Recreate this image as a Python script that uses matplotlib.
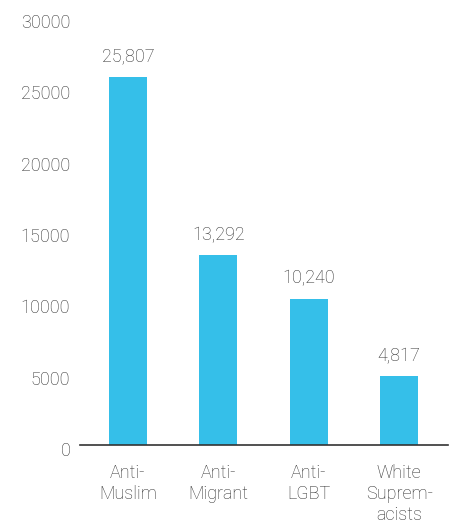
import matplotlib
matplotlib.use("Agg")
import matplotlib.pyplot as plt
import matplotlib.transforms as mtransforms

# Data
categories = ["Anti-\nMuslim", "Anti-\nMigrant", "Anti-\nLGBT", "White\nSuprem-\nacists"]
values = [25807, 13292, 10240, 4817]
yticks = [0, 5000, 10000, 15000, 20000, 25000, 30000]

bar_color = "#35bfe9"
text_color = "#2e2e2e"
plt.rcParams["font.family"] = ["Roboto", "DejaVu Sans"]
plt.rcParams["font.weight"] = "light"

fig = plt.figure(figsize=(4.55, 5.26), dpi=100)
ax = fig.add_axes([80 / 455, 81 / 526, 368 / 455, 428 / 526])

x = list(range(len(values)))
ax.bar(x, values, width=0.42, color=bar_color, zorder=2)

# value labels above bars
for xi, v in zip(x, values):
    ax.text(xi, v + 800, f"{v:,}", ha="center", va="bottom",
            fontsize=13, color=text_color, fontweight="light")

ax.set_xlim(-0.53, 3.54)
ax.set_ylim(0, 30000)
ax.set_yticks(yticks)
ax.set_yticklabels([str(t) for t in yticks], fontsize=13, color=text_color,
                   fontweight="light")
ax.set_xticks(x)
ax.set_xticklabels(categories, fontsize=13, color=text_color, linespacing=1.2,
                   fontweight="light")
ax.tick_params(axis="both", length=0)
ax.tick_params(axis="y", pad=7)
ax.tick_params(axis="x", pad=14)

# nudge y labels a little downward like the original
shift = mtransforms.ScaledTranslation(0, -4 / 100, fig.dpi_scale_trans)
for lab in ax.get_yticklabels():
    lab.set_transform(lab.get_transform() + shift)

for s in ["top", "right", "left"]:
    ax.spines[s].set_visible(False)
ax.spines["bottom"].set_color("#333333")
ax.spines["bottom"].set_linewidth(1.2)

fig.savefig("out.png", dpi=100)
